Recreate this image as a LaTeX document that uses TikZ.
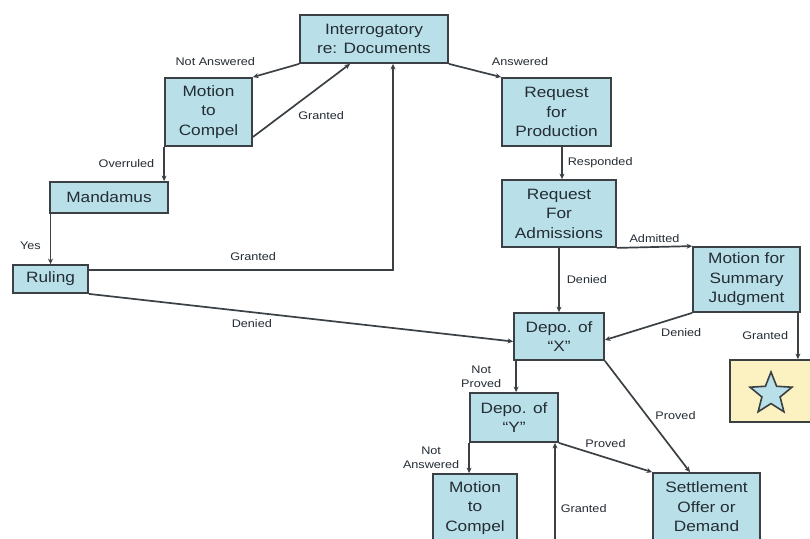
\documentclass[tikz,border=0pt]{standalone}
\usepackage{fontspec}
\setmainfont[FakeStretch=1.15]{Liberation Sans}
\usetikzlibrary{arrows.meta,shapes.geometric,calc}
\definecolor{boxblue}{RGB}{185,224,232}
\definecolor{boxyellow}{RGB}{252,241,192}
\definecolor{edgegray}{RGB}{58,64,68}
\definecolor{txt}{RGB}{36,44,52}
\begin{document}
\begin{tikzpicture}[x=1pt,y=-1pt,
  box/.style={draw=edgegray, line width=1.8pt, fill=boxblue, inner sep=0pt, align=center,
    font=\fontsize{15}{19.5}\selectfont, text=txt},
  conn/.style={draw=edgegray, line width=1.7pt, -{Stealth[length=5.5pt,width=5pt]}},
  lbl/.style={font=\fontsize{11}{14}\selectfont, text=txt, inner sep=0pt, align=center}]
\clip (0,0) rectangle (810,538);
\fill[white] (0,0) rectangle (810,538);

% nodes
\node[box, minimum width=148pt, minimum height=48pt] (intr) at (374,39) {Interrogatory\\re: Documents};
\node[box, minimum width=87pt, minimum height=68pt] (mtc1) at (208.5,112) {Motion\\to\\Compel};
\node[box, minimum width=118pt, minimum height=31pt] (mand) at (109,197.5) {Mandamus};
\node[box, minimum width=75pt, minimum height=28pt] (rul) at (50.5,279) {Ruling};
\node[box, minimum width=109pt, minimum height=68pt] (rfp) at (556.5,112) {Request\\for\\Production};
\node[box, minimum width=114pt, minimum height=67pt] (rfa) at (559,213.5) {Request\\For\\Admissions};
\node[box, minimum width=107pt, minimum height=65pt] (msj) at (746.5,279.5) {Motion for\\Summary\\Judgment};
\node[box, minimum width=90pt, minimum height=47pt] (dx) at (559,336.5) {Depo. of\\“X”};
\node[draw=edgegray, line width=1.8pt, fill=boxyellow, minimum width=82pt, minimum height=62pt, inner sep=0pt] (starbox) at (771,391) {};
\node[star, star points=5, star point ratio=2.3, minimum size=44pt, draw=edgegray, line width=1.6pt, fill=boxblue, inner sep=0pt] (starsym) at ([yshift=-3pt]starbox.center) {};
\node[box, minimum width=88pt, minimum height=49pt] (dy) at (514,417.5) {Depo. of\\“Y”};
\node[box, minimum width=84pt, minimum height=68pt] (mtc2) at (475,508) {Motion\\to\\Compel};
\node[box, minimum width=107pt, minimum height=68pt] (set) at (706.5,507) {Settlement\\Offer or\\Demand};
\coordinate (gbot) at (555,560);

% connectors
\draw[conn] (intr.south west) -- (mtc1.north east)
  node[lbl, pos=1, anchor=south east, xshift=3pt, yshift=11pt] {Not Answered};
\draw[conn] ([yshift=-25pt]mtc1.east) -- ([xshift=-24pt]intr.south)
  node[lbl, pos=0.5, anchor=north west, xshift=-4pt, yshift=-10pt] {Granted};
\draw[conn] (mtc1.south west) -- (mtc1.south west |- mand.north)
  node[lbl, midway, left=9pt] {Overruled};
\draw[conn] (rul.north |- mand.south) -- (rul.north)
  node[lbl, pos=0.63, left=9pt] {Yes};
\draw[conn] ([yshift=-6pt]rul.north east) -| ([xshift=19pt]intr.south)
  node[lbl, pos=0.27, above=9pt] {Granted};
\draw[conn] (rul.south east) -- ([yshift=-5pt]dx.west)
  node[lbl, pos=0.384, below=6pt] {Denied};
\draw[conn] (intr.south east) -- (rfp.north west)
  node[lbl, pos=1, anchor=south west, xshift=-10pt, yshift=11pt] {Answered};
\draw[conn] ([xshift=5.5pt]rfp.south) -- ([xshift=5.5pt]rfp.south |- rfa.north)
  node[lbl, midway, right=5pt] {Responded};
\draw[conn] (rfa.south east) -- (msj.north west)
  node[lbl, midway, above=4pt] {Admitted};
\draw[conn] (rfa.south) -- (rfa.south |- dx.north)
  node[lbl, midway, right=7pt] {Denied};
\draw[conn] (msj.south west) -- ([yshift=-3.5pt]dx.east)
  node[lbl, pos=0.125, below=11pt] {Denied};
\draw[conn] ([xshift=-3pt]msj.south east) -- ([xshift=-3pt]msj.south east |- starbox.north)
  node[lbl, midway, left=9pt] {Granted};
\draw[conn] ([xshift=3pt]dx.south west) -- ([xshift=3pt]dx.south west |- dy.north)
  node[lbl, midway, left=14pt] {Not\\Proved};
\draw[conn] (dx.south east) -- ([xshift=-16.5pt]set.north)
  node[lbl, pos=0.49, right=8pt] {Proved};
\draw[conn] (dy.south east) -- (set.north west)
  node[lbl, midway, above=9pt] {Proved};
\draw[conn] (dy.south west) -- (dy.south west |- mtc2.north)
  node[lbl, midway, left=9pt] {Not\\Answered};
\draw[conn] (gbot) -- (gbot |- dy.south)
  node[lbl, pos=0.44, right=5pt] {Granted};
\end{tikzpicture}
\end{document}
